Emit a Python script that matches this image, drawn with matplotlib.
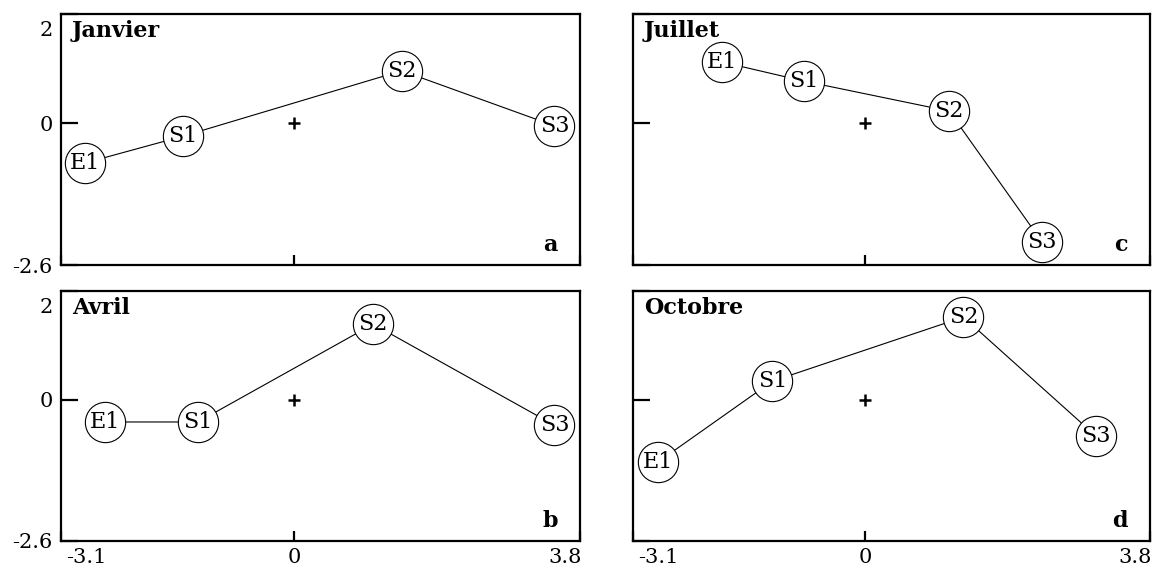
import matplotlib
matplotlib.use("Agg")
import matplotlib.pyplot as plt
from matplotlib.transforms import ScaledTranslation

plt.rcParams['font.family'] = ['DejaVu Serif']

# station scores (axis 1, axis 2) per season
stations = ['E1', 'S1', 'S2', 'S3']

janvier_x = [-2.78, -1.48, 1.43, 3.46]
janvier_y = [-0.73, -0.24, 0.96, -0.05]

avril_x = [-2.51, -1.28, 1.05, 3.46]
avril_y = [-0.41, -0.41, 1.39, -0.47]

juillet_x = [-1.91, -0.82, 1.12, 2.36]
juillet_y = [1.12, 0.77, 0.22, -2.18]

octobre_x = [-2.77, -1.24, 1.31, 3.08]
octobre_y = [-1.15, 0.34, 1.52, -0.67]

xmin, xmax = -3.1, 3.8
ymin, ymax = -2.6, 2.0

panels = [
    ('Janvier', 'a', janvier_x, janvier_y),
    ('Avril', 'b', avril_x, avril_y),
    ('Juillet', 'c', juillet_x, juillet_y),
    ('Octobre', 'd', octobre_x, octobre_y),
]

fig = plt.figure(figsize=(11.57, 5.69), dpi=100)
W, H = 1157, 569
boxes = [
    (61, 14, 519, 251),    # a
    (61, 291, 519, 250),   # b
    (633, 14, 517, 251),   # c
    (633, 291, 517, 250),  # d
]

def nudge(lbl, dx, dy):
    lbl.set_transform(lbl.get_transform()
                      + ScaledTranslation(dx / 100, dy / 100, fig.dpi_scale_trans))

for i, ((titre, lettre, xs, ys), (l, t, w, h)) in enumerate(zip(panels, boxes)):
    ax = fig.add_axes([l / W, 1 - (t + h) / H, w / W, h / H])
    ax.set_xlim(xmin, xmax)
    ax.set_ylim(ymin, ymax)

    ax.plot(xs, ys, color='black', lw=0.8, zorder=1)
    ax.plot(xs, ys, 'o', ms=29, mfc='white', mec='black', mew=0.8, zorder=2)
    for s, x, y in zip(stations, xs, ys):
        ax.text(x, y, s, ha='center', va='center', fontsize=16, zorder=3)

    # origin
    ax.plot([0], [0], marker='+', ms=9, mew=1.8, color='black', zorder=1)

    ax.text(0.021, 0.975, titre, transform=ax.transAxes, ha='left', va='top',
            fontsize=16, fontweight='bold')
    ax.text(0.957, 0.035, lettre, transform=ax.transAxes, ha='right', va='bottom',
            fontsize=16, fontweight='bold')

    for sp in ax.spines.values():
        sp.set_linewidth(1.6)

    ax.set_xticks([xmin, 0, xmax])
    ax.set_yticks([ymin, 0, ymax])
    ax.set_xticklabels(['-3.1', '0', '3.8'])
    ax.set_yticklabels(['-2.6', '0', '2'])
    ax.tick_params(axis='y', direction='in', length=12, width=1.6, pad=6,
                   labelsize=15)
    ax.tick_params(axis='x', direction='in', length=7, width=1.6, pad=5,
                   labelsize=15)
    # end labels kept within the frame
    xl = ax.get_xticklabels()
    xl[0].set_ha('left')
    nudge(xl[0], 5, 0)
    xl[2].set_ha('right')
    nudge(xl[2], 2, 0)
    yl = ax.get_yticklabels()
    yl[2].set_va('top')
    nudge(yl[2], 0, -7)
    if i >= 2:
        ax.tick_params(axis='y', labelleft=False)
    if i in (0, 2):
        ax.tick_params(axis='x', labelbottom=False)

fig.savefig('out.png', dpi=100, facecolor='white')
